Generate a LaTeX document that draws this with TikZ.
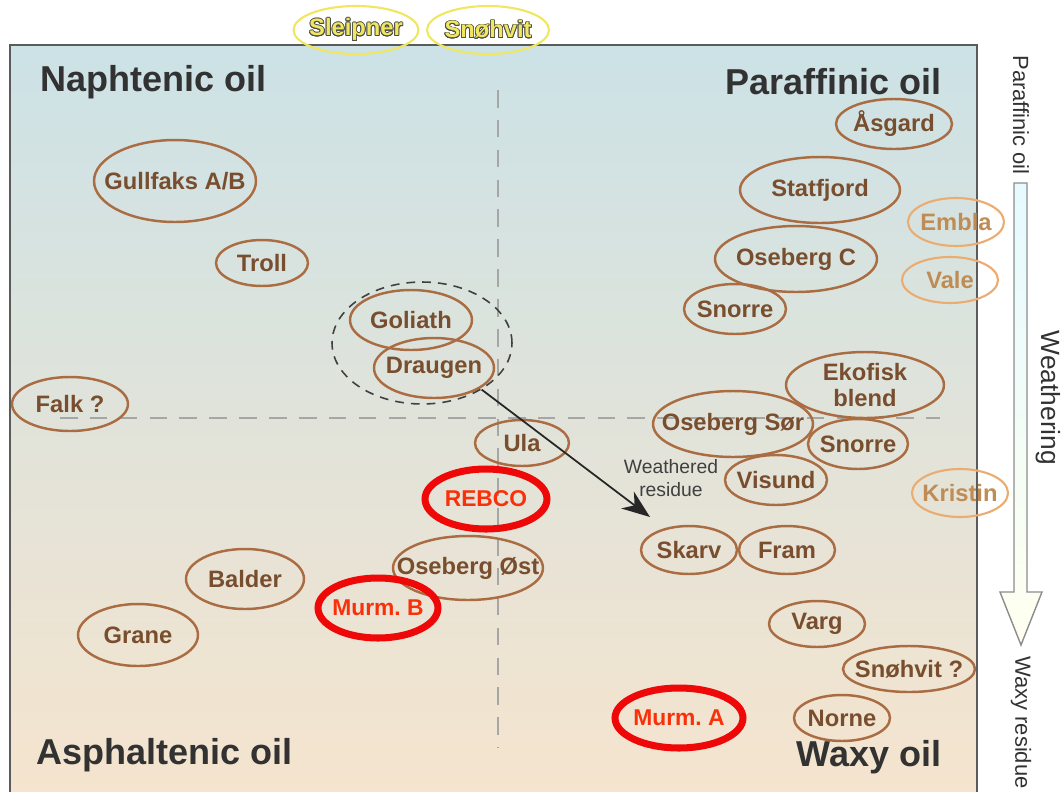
\documentclass[tikz,border=0pt]{standalone}
\usepackage{fontspec}
\setmainfont{Liberation Sans}
\usepackage[copies]{contour}
\usetikzlibrary{positioning,shapes.geometric,arrows.meta}

\definecolor{fieldbrown}{RGB}{170,108,66}
\definecolor{fieldtext}{RGB}{120,78,46}
\definecolor{lightfield}{RGB}{234,172,112}
\definecolor{lighttext}{RGB}{190,140,84}
\definecolor{murmred}{RGB}{238,8,8}
\definecolor{murmtext}{RGB}{250,48,10}
\definecolor{gasyellow}{RGB}{240,230,96}
\definecolor{skytop}{RGB}{204,226,230}
\definecolor{sandbottom}{RGB}{245,228,206}
\definecolor{titlegray}{RGB}{50,50,50}
\contourlength{0.45pt}
\frenchspacing

\tikzset{
	field/.style={draw=fieldbrown, line width=1.4pt, ellipse, inner xsep=-12pt, inner ysep=-3pt,
		text=fieldtext, font=\fontsize{13.5}{15}\selectfont\bfseries, align=center},
	lightfld/.style={field, draw=lightfield, line width=1.2pt, text=lighttext},
	murm/.style={draw=murmred, line width=4pt, ellipse, inner xsep=-12pt, inner ysep=-3pt,
		text=murmtext, font=\fontsize{13}{15}\selectfont\bfseries},
	gasfld/.style={draw=gasyellow, line width=1.2pt, ellipse, inner xsep=-12pt, inner ysep=-3pt,
		text=gasyellow, font=\fontsize{13.5}{15}\selectfont\bfseries},
	oiltitle/.style={text=titlegray, font=\fontsize{20.5}{24}\selectfont\bfseries, inner sep=0pt},
	sidetext/.style={rotate=-90, text=titlegray, inner sep=0pt, font=\fontsize{12.5}{14}\selectfont},
	quadline/.style={gray!70, line width=0.6pt, dash pattern=on 10pt off 7pt}
}

\begin{document}
\begin{tikzpicture}[x=0.02cm, y=-0.02cm]

	\useasboundingbox (0,0) rectangle (1063,792);

	% frame and background
	\path [top color=skytop, bottom color=sandbottom] (10,45) rectangle (977,792);
	\draw [titlegray!80, line width=1.1pt] (10,792) -- (10,45) -- (977,45) -- (977,792);

	% quadrant lines
	\coordinate (vtop) at (498,90);
	\coordinate (vbot) at (498,748);
	\coordinate (hleft) at (60,418);
	\coordinate (hright) at (940,418);
	\draw [quadline] (vtop) -- (vbot);
	\draw [quadline] (hleft) -- (hright);

	% quadrant titles
	\node [oiltitle, anchor=west] (naph) at (40,82) {Naphtenic oil};
	\node [oiltitle, anchor=east] (paraf) at (942,82) {Paraffinic oil};
	\node [oiltitle, anchor=west] (asph) at (36,755) {Asphaltenic oil};
	\node [oiltitle, anchor=east] (waxy) at (942,757) {Waxy oil};

	% gas fields above the frame
	\node [gasfld, minimum width=2.5cm, minimum height=0.96cm] (sleipner) at (356,30) {\contour{black!70}{Sleipner}};
	\node [gasfld, minimum width=2.44cm, minimum height=0.96cm] (snohvitgas) at (488,30) {\contour{black!70}{Snøhvit}};

	% naphtenic / asphaltenic side
	\node [field, minimum width=3.24cm, minimum height=1.64cm] (gullfaks) at (175,181) {Gullfaks A/B};
	\node [field, minimum width=1.84cm, minimum height=0.92cm] (troll) at (262,263) {Troll};
	\node [field, minimum width=2.44cm, minimum height=1.2cm] (goliath) at (411,320) {Goliath};
	\node [field, minimum width=2.4cm, minimum height=1.2cm] (draugen) at (434,368) {Draugen};
	\node [draw=black!75, line width=0.9pt, dash pattern=on 5pt off 4pt, ellipse, minimum width=3.6cm, minimum height=2.44cm] (grp) at (422,343) {};
	\node [field, minimum width=2.32cm, minimum height=1.08cm] (falk) at (70,404) {Falk ?};
	\node [field, minimum width=1.88cm, minimum height=0.92cm] (ula) at (522,443) {Ula};
	\node [murm, minimum width=2.44cm, minimum height=1.2cm] (rebco) at (486,499) {REBCO};
	\node [field, minimum width=3.0cm, minimum height=1.28cm] (osebergost) at (468,568) {Oseberg Øst};
	\node [field, minimum width=2.36cm, minimum height=1.2cm] (balder) at (245,579) {Balder};
	\node [murm, minimum width=2.4cm, minimum height=1.2cm] (murmb) at (378,608) {Murm. B};
	\node [field, minimum width=2.4cm, minimum height=1.24cm] (grane) at (138,635) {Grane};

	% paraffinic / waxy side
	\node [field, minimum width=2.32cm, minimum height=1.0cm] (asgard) at (894,124) {Åsgard};
	\node [field, minimum width=3.2cm, minimum height=1.32cm] (statfjord) at (820,190) {Statfjord};
	\node [lightfld, minimum width=1.92cm, minimum height=0.96cm] (embla) at (956,222) {Embla};
	\node [field, minimum width=3.24cm, minimum height=1.32cm] (osebergc) at (796,259) {Oseberg C};
	\node [lightfld, minimum width=1.92cm, minimum height=0.92cm] (vale) at (950,280) {Vale};
	\node [field, minimum width=2.04cm, minimum height=1.0cm] (snorrea) at (735,309) {Snorre};
	\node [field, minimum width=3.16cm, minimum height=1.32cm] (ekofisk) at (865,385) {Ekofisk\\blend};
	\node [field, minimum width=3.2cm, minimum height=1.32cm] (osebergsor) at (733,424) {Oseberg Sør};
	\node [field, minimum width=2.0cm, minimum height=1.0cm] (snorreb) at (858,444) {Snorre};
	\node [field, minimum width=2.04cm, minimum height=1.0cm] (visund) at (776,480) {Visund};
	\node [lightfld, minimum width=1.92cm, minimum height=0.96cm] (kristin) at (960,493) {Kristin};
	\node [field, minimum width=1.92cm, minimum height=0.96cm] (skarv) at (689,550) {Skarv};
	\node [field, minimum width=1.92cm, minimum height=0.96cm] (fram) at (787,550) {Fram};
	\node [field, minimum width=1.92cm, minimum height=0.92cm] (varg) at (817,624) {Varg};
	\node [field, minimum width=2.64cm, minimum height=0.92cm] (snohvit) at (909,669) {Snøhvit ?};
	\node [murm, minimum width=2.56cm, minimum height=1.2cm] (murma) at (679,718) {Murm. A};
	\node [field, minimum width=1.92cm, minimum height=0.92cm] (norne) at (842,718) {Norne};

	% weathering of the group
	\coordinate (wtip) at (650,517);
	\draw [black!85, line width=1pt, -{Stealth[length=16pt, width=12pt, inset=5pt]}] (grp.-38) -- (wtip);
	\node [text=black!75, font=\fontsize{11}{13}\selectfont, align=center] (wres) at (671,478) {Weathered\\residue};

	% weathering scale on the right
	\path [draw=gray!90, line width=0.8pt, top color=blue!20!cyan!10!white, bottom color=yellow!6!white]
		(1014,183) -- (1027,183) -- (1027,592) -- (1042,592) -- (1021,645) -- (1000,592) -- (1014,592) -- cycle;
	\node [sidetext, anchor=west] (paraftxt) at (1021,55) {Paraffinic oil};
	\node [sidetext, font=\fontsize{15}{17}\selectfont] (weathtxt) at (1048,398) {Weathering};
	\node [sidetext, anchor=west] (waxytxt) at (1021,656) {Waxy residue};
\end{tikzpicture}
\end{document}
